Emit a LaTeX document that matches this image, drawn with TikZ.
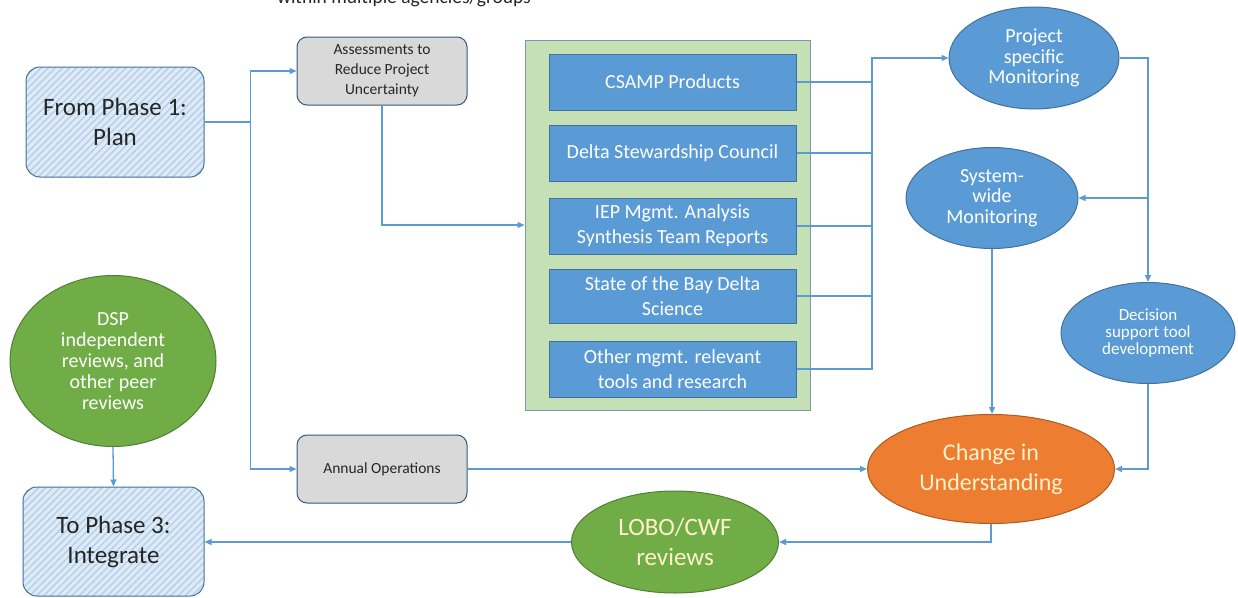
\documentclass[tikz,border=0pt]{standalone}
\usepackage{fontspec}
\setmainfont{Carlito}
\usetikzlibrary{shapes.geometric,patterns.meta,arrows.meta}
\definecolor{linkblue}{HTML}{5B9BD5}
\definecolor{edgeblue}{HTML}{41719C}
\definecolor{boxblue}{HTML}{5B9BD5}
\definecolor{phasefill}{HTML}{DEEBF7}
\definecolor{stripe}{HTML}{B4CFEC}
\definecolor{panelgreen}{HTML}{C5E0B4}
\definecolor{paneledge}{HTML}{7A96B8}
\definecolor{revgreen}{HTML}{70AD47}
\definecolor{revedge}{HTML}{507E32}
\definecolor{changeorange}{HTML}{ED7D31}
\definecolor{changeedge}{HTML}{AE5A21}
\definecolor{cream}{HTML}{FFF2CC}
\definecolor{greybox}{HTML}{D9D9D9}
\definecolor{darktext}{HTML}{262626}
\begin{document}
\begin{tikzpicture}
[x=1pt,y=-1pt,
 link/.style={draw=linkblue,line width=1.3pt,-{Triangle[length=7pt,width=6pt]}},
 plain/.style={draw=linkblue,line width=1.3pt},
 phase/.style={draw=edgeblue,line width=1pt,rounded corners=14pt,
   preaction={fill=phasefill},
   pattern={Lines[angle=45,distance=5pt,line width=1.4pt]},pattern color=stripe,
   minimum width=178pt,minimum height=110pt,inner sep=0pt,align=center,
   text=darktext,font=\fontsize{25}{30}\selectfont},
 greyrect/.style={draw=edgeblue!80!black,line width=1pt,rounded corners=10pt,fill=greybox,
   minimum width=170pt,minimum height=68pt,inner sep=0pt,align=center,
   text=darktext,font=\fontsize{15.5}{20}\selectfont},
 item/.style={draw=edgeblue,line width=1pt,fill=boxblue,minimum width=247pt,
   minimum height=56pt,inner sep=0pt,align=center,text=white,
   font=\fontsize{20}{25}\selectfont},
 blueoval/.style={ellipse,draw=edgeblue,line width=1pt,fill=boxblue,inner sep=0pt,
   align=center,text=white},
 greenoval/.style={ellipse,draw=revedge,line width=1pt,fill=revgreen,inner sep=0pt,
   align=center},
]
\useasboundingbox (0,0) rectangle (1238,597);
% heading, cut off at the top
\node [anchor=base,text=darktext,font=\fontsize{19.5}{22}\selectfont] (note) at (404,3) {within multiple agencies/groups};
% left column
\node [phase] (from1) at (115,122) {From Phase 1:\\Plan};
\node [greenoval,minimum width=206pt,minimum height=171pt,text=white,
  font=\fontsize{20}{21}\selectfont] (dsp) at (113,361) {DSP\\independent\\reviews, and\\other peer\\reviews};
\node [phase,minimum width=181pt,minimum height=109pt] (to3) at (113.5,541.5) {To Phase 3:\\Integrate};
% grey boxes
\node [greyrect] (assess) at (382,71) {Assessments to\\Reduce Project\\Uncertainty};
\node [greyrect] (annual) at (382,469) {Annual Operations};
% green panel with products
\node [draw=paneledge,line width=1pt,fill=panelgreen,minimum width=285pt,
  minimum height=370pt,inner sep=0pt] (panel) at (667.5,225) {};
\node [item] (csamp) at (672.5,82) {CSAMP Products};
\node [item] (dsc) at (672.5,153) {Delta Stewardship Council};
\node [item] (iep) at (672.5,226) {IEP Mgmt. Analysis\\Synthesis Team Reports};
\node [item,minimum height=54pt] (sbd) at (672.5,296) {State of the Bay Delta\\Science};
\node [item] (other) at (672.5,369) {Other mgmt. relevant\\tools and research};
% monitoring
\node [blueoval,minimum width=170pt,minimum height=102pt,
  font=\fontsize{20}{20.5}\selectfont] (proj) at (1034,58) {Project\\specific\\Monitoring};
\node [blueoval,minimum width=172pt,minimum height=101pt,
  font=\fontsize{20}{20.5}\selectfont] (sysw) at (992,198) {System-\\wide\\Monitoring};
\node [blueoval,minimum width=174pt,minimum height=101pt,
  font=\fontsize{17}{17}\selectfont] (dec) at (1148,333) {Decision\\support tool\\development};
\node [ellipse,draw=changeedge,line width=1pt,fill=changeorange,inner sep=0pt,
  minimum width=247pt,minimum height=109pt,align=center,text=cream,
  font=\fontsize{24}{30}\selectfont] (change) at (991,469) {Change in\\Understanding};
\node [greenoval,minimum width=207pt,minimum height=102pt,text=cream,
  font=\fontsize{25}{30}\selectfont] (lobo) at (675,542) {LOBO/CWF\\reviews};
% connectors
\coordinate (trunk) at (872,0);
\draw [link] (from1.east) -- ++(46,0) |- (assess.west);
\draw [link] (from1.east) -- ++(46,0) |- (annual.west);
\draw [link] (assess.south) |- (panel.west);
\foreach \n in {csamp,dsc,iep,sbd}
  \draw [plain] (\n.east) -- (\n.east -| trunk);
\draw [link] (other.east) -- (other.east -| trunk) |- (proj.west);
\draw [link] (proj.east) -| (dec.north);
\draw [link] (proj.east -| dec.north) |- (sysw.east);
\draw [link] (sysw.south) -- (sysw.south |- change.north);
\draw [link] (annual.east) -- (change.west);
\draw [link] (dec.south) |- (change.east);
\draw [link] (change.south) |- (lobo.east);
\draw [link] (lobo.west) -- (lobo.west -| to3.east);
\draw [link] (dsp.south) -- (to3.north);
\end{tikzpicture}
\end{document}
